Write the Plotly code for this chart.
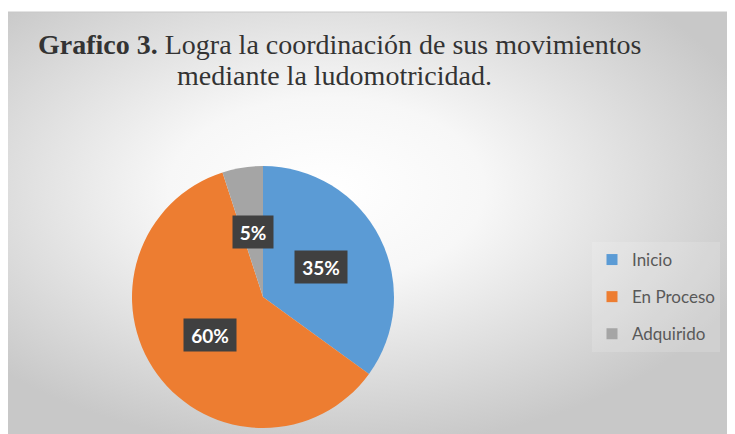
import math
import base64
import plotly.graph_objects as go

categories = ["Inicio", "En Proceso", "Adquirido"]
values = [35, 60, 5]
colors = ["#5B9BD5", "#ED7D31", "#A5A5A5"]
title_bold = "Grafico 3."
title_line1 = " Logra la coordinación de sus movimientos"
title_line2 = "mediante la ludomotricidad."

# page has an 8px body margin; figure drawn at offset OFF
OFF = 8
W, H = 735 - OFF, 434 - OFF


def fx(px):
    return (px - OFF) / W


def fy(py):
    return 1 - (py - OFF) / H


# background gradient (radial) as SVG data uri
svg = (
    '<svg xmlns="http://www.w3.org/2000/svg" width="729" height="422" viewBox="0 0 729 422">'
    '<defs><radialGradient id="g" cx="0.44" cy="0.42" r="0.62" gradientUnits="objectBoundingBox">'
    '<stop offset="0" stop-color="#ffffff"/><stop offset="0.35" stop-color="#f7f7f7"/>'
    '<stop offset="1" stop-color="#c8c8c8"/></radialGradient></defs>'
    '<rect width="729" height="422" fill="url(#g)"/></svg>'
)
src = "data:image/svg+xml;base64," + base64.b64encode(svg.encode()).decode()

# pie geometry (page pixels)
cx, cy, r = 263, 297, 131
dom_x = [fx(cx - r), fx(cx + r)]
dom_y = [fy(cy + r), fy(cy - r)]

fig = go.Figure()
fig.add_trace(go.Pie(
    labels=categories, values=values, sort=False, direction="clockwise", rotation=0,
    marker=dict(colors=colors, line=dict(width=0)), textinfo="none", hoverinfo="label+percent",
    showlegend=False, domain=dict(x=dom_x, y=dom_y),
))

# legend via dummy traces
for i, (c, col) in enumerate(zip(categories, colors)):
    fig.add_trace(go.Scatter(
        x=[None], y=[None], mode="markers", name=c, legendgroup=str(i),
        marker=dict(symbol="square", size=11, color=col),
    ))

# percentage label annotations placed at half radius of each slice
total = sum(values)
cum = 0
annotations = []
for v in values:
    mid = (cum + v / 2) / total * 2 * math.pi
    cum += v
    px = cx + 0.5 * r * math.sin(mid)
    py = cy - 0.5 * r * math.cos(mid)
    txt = f"{round(v / total * 100)}%"
    annotations.append(dict(
        x=fx(px), y=fy(py), xref="paper", yref="paper", text=f"<b>{txt}</b>",
        xanchor="center", yanchor="middle",
        showarrow=False, font=dict(family="Lato", size=19, color="white"),
        bgcolor="#404040", borderpad=4, width=44 if len(txt) == 3 else 32, height=24,
    ))

title_font = dict(family="Liberation Serif", size=28, color="#333333")
annotations.append(dict(
    x=fx(339), y=fy(44), xref="paper", yref="paper",
    text=f"<b>{title_bold}</b>{title_line1}", showarrow=False,
    font=title_font, xanchor="center", yanchor="middle",
))
annotations.append(dict(
    x=fx(334), y=fy(76), xref="paper", yref="paper",
    text=title_line2, showarrow=False,
    font=title_font, xanchor="center", yanchor="middle",
))

fig.update_layout(
    width=W, height=H, margin=dict(l=0, r=0, t=0, b=0),
    paper_bgcolor="white", plot_bgcolor="rgba(0,0,0,0)",
    xaxis=dict(visible=False), yaxis=dict(visible=False),
    images=[dict(source=src, xref="paper", yref="paper", x=fx(6), y=fy(12),
                 sizex=1 - fx(6), sizey=fy(12), sizing="stretch", layer="below",
                 xanchor="left", yanchor="top")],
    shapes=[
        dict(type="line", xref="paper", yref="paper", x0=fx(6), x1=1, y0=fy(12), y1=fy(12),
             line=dict(color="#c8c8c8", width=1), layer="below"),
        dict(type="line", xref="paper", yref="paper", x0=fx(6), x1=fx(6), y0=0, y1=fy(12),
             line=dict(color="#c8c8c8", width=1), layer="below"),
    ],
    legend=dict(x=fx(592), y=fy(242), xanchor="left", yanchor="top",
                font=dict(family="Lato", size=17, color="#595959"),
                bgcolor="rgba(255,255,255,0.15)", tracegroupgap=12, itemclick=False,
                traceorder="grouped"),
    annotations=annotations,
)

fig.write_html("out.html")
